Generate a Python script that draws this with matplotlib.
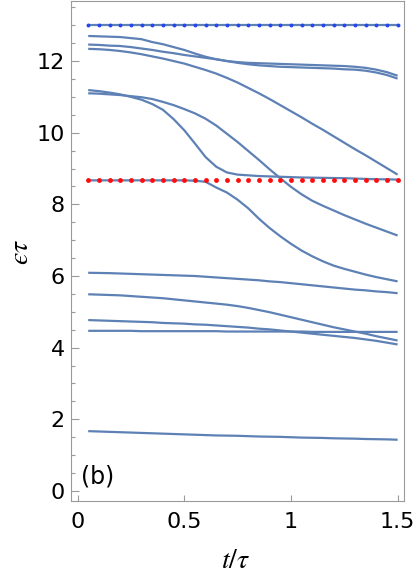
import numpy as np
import matplotlib
matplotlib.use("Agg")
import matplotlib.pyplot as plt
from matplotlib.ticker import MultipleLocator

plt.rcParams['mathtext.fontset'] = 'stix'

# sample times t/tau
t = np.linspace(0.05, 1.5, 30)

top_flat = [13.0] * 30
lvl_a = [12.70, 12.69, 12.68, 12.67, 12.64, 12.61, 12.53, 12.47, 12.39, 12.31,
         12.21, 12.12, 12.05, 12.00, 11.97, 11.95, 11.94, 11.93, 11.92, 11.91,
         11.90, 11.89, 11.88, 11.87, 11.86, 11.84, 11.81, 11.76, 11.69, 11.59]
lvl_b = [12.46, 12.45, 12.43, 12.42, 12.39, 12.35, 12.31, 12.26, 12.22, 12.17,
         12.13, 12.09, 12.05, 12.00, 11.95, 11.91, 11.88, 11.86, 11.84, 11.83,
         11.82, 11.81, 11.80, 11.79, 11.77, 11.76, 11.73, 11.68, 11.61, 11.51]
lvl_c = [12.34, 12.33, 12.31, 12.28, 12.24, 12.19, 12.13, 12.07, 12.00, 11.93,
         11.84, 11.75, 11.65, 11.53, 11.40, 11.25, 11.10, 10.94, 10.77, 10.60,
         10.43, 10.25, 10.08, 9.90, 9.72, 9.54, 9.37, 9.19, 9.01, 8.83]
lvl_d = [11.19, 11.16, 11.12, 11.07, 11.00, 10.92, 10.80, 10.64, 10.38, 10.07,
         9.70, 9.32, 9.05, 8.89, 8.83, 8.81, 8.79, 8.78, 8.77, 8.76,
         8.75, 8.745, 8.74, 8.735, 8.73, 8.72, 8.71, 8.70, 8.70, 8.69]
lvl_e = [11.10, 11.09, 11.07, 11.05, 11.02, 10.99, 10.94, 10.86, 10.77, 10.66,
         10.54, 10.39, 10.20, 9.97, 9.74, 9.49, 9.24, 8.98, 8.73, 8.49,
         8.28, 8.10, 7.96, 7.83, 7.70, 7.58, 7.46, 7.35, 7.24, 7.13]
lvl_f = [8.67, 8.67, 8.67, 8.67, 8.67, 8.67, 8.67, 8.67, 8.67, 8.67,
         8.66, 8.63, 8.47, 8.33, 8.13, 7.89, 7.60, 7.34, 7.11, 6.90,
         6.71, 6.55, 6.41, 6.29, 6.20, 6.12, 6.04, 5.97, 5.91, 5.85]
lvl_g = [6.09, 6.085, 6.08, 6.07, 6.06, 6.05, 6.04, 6.03, 6.02, 6.01,
         6.00, 5.98, 5.96, 5.94, 5.92, 5.90, 5.88, 5.85, 5.83, 5.80,
         5.77, 5.74, 5.71, 5.68, 5.65, 5.62, 5.60, 5.57, 5.55, 5.52]
lvl_h = [5.49, 5.48, 5.47, 5.46, 5.44, 5.42, 5.40, 5.38, 5.35, 5.32,
         5.29, 5.26, 5.23, 5.20, 5.16, 5.11, 5.05, 4.99, 4.92, 4.85,
         4.78, 4.71, 4.64, 4.57, 4.51, 4.45, 4.39, 4.32, 4.26, 4.20]
lvl_i = [4.77, 4.76, 4.75, 4.74, 4.73, 4.72, 4.71, 4.69, 4.68, 4.67,
         4.65, 4.64, 4.62, 4.60, 4.58, 4.56, 4.53, 4.51, 4.48, 4.45,
         4.42, 4.39, 4.36, 4.33, 4.30, 4.27, 4.23, 4.19, 4.14, 4.09]
lvl_j = [4.47, 4.47, 4.47, 4.47, 4.47, 4.46, 4.46, 4.46, 4.46, 4.46,
         4.46, 4.46, 4.46, 4.45, 4.45, 4.45, 4.45, 4.45, 4.45, 4.45,
         4.45, 4.44, 4.44, 4.44, 4.44, 4.44, 4.44, 4.44, 4.44, 4.44]
lvl_k = [1.67, 1.66, 1.65, 1.64, 1.63, 1.62, 1.61, 1.60, 1.59, 1.58,
         1.57, 1.56, 1.55, 1.545, 1.54, 1.53, 1.52, 1.515, 1.51, 1.50,
         1.49, 1.485, 1.48, 1.47, 1.465, 1.46, 1.45, 1.445, 1.44, 1.43]

blue_dots = [13.0] * 30
red_dots = [8.67] * 30

curves = [top_flat, lvl_a, lvl_b, lvl_c, lvl_d, lvl_e, lvl_f,
          lvl_g, lvl_h, lvl_i, lvl_j, lvl_k]

line_col = '#5e81b5'
grey = '#9a9a9a'

fig = plt.figure(figsize=(4.15, 5.76), dpi=100)
ax = fig.add_axes([70.5 / 415, 75 / 576, 333.5 / 415, 500.5 / 576])

for c in curves:
    ax.plot(t, c, color=line_col, lw=1.6, solid_capstyle='butt',
            solid_joinstyle='round', zorder=2)

ax.plot(t, blue_dots, ls='none', marker='o', ms=2.8, color='#2346ee',
        mec='none', zorder=3)
ax.plot(t, red_dots, ls='none', marker='o', ms=3.5, color='#ff0d0d',
        mec='none', zorder=3)

ax.set_xlim(-0.033, 1.53)
ax.set_ylim(-0.28, 13.69)

ax.set_xticks([0, 0.5, 1, 1.5])
ax.set_xticklabels(['0', '0.5', '1', '1.5'])
ax.yaxis.set_major_locator(MultipleLocator(2))
ax.yaxis.set_minor_locator(MultipleLocator(0.5))

for s in ax.spines.values():
    s.set_color(grey)
    s.set_linewidth(0.8)

ax.tick_params(axis='both', which='both', direction='in', color=grey,
               labelsize=16, width=0.8)
ax.tick_params(axis='y', which='major', length=5.5, pad=4)
ax.tick_params(axis='y', which='minor', length=2.8)
ax.tick_params(axis='x', which='major', length=4.5, pad=8)

ax.set_xlabel(r'$t/\tau$', fontsize=20, va='center')
ax.xaxis.set_label_coords(0.496, -0.118)
ax.set_ylabel('$\u03f5\\tau$', fontsize=20, va='center')
ax.yaxis.set_label_coords(-0.151, 0.4975)

ax.text(0.0825, 0.048, '(b)', transform=ax.transAxes, fontsize=17,
        ha='center', va='center')

fig.savefig('out.png', dpi=100)
